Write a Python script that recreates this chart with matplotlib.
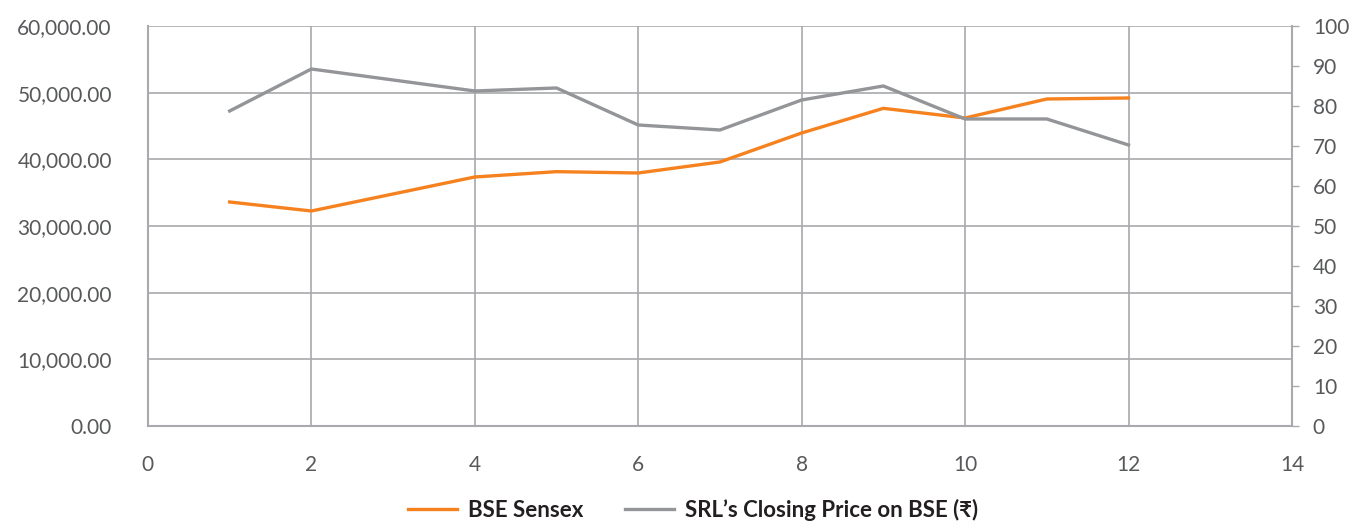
import matplotlib.pyplot as plt
from matplotlib.ticker import FuncFormatter, MultipleLocator

plt.rcParams['font.family'] = ['Lato', 'DejaVu Sans']

# Month index on the x axis
months = [1, 2, 4, 5, 6, 7, 8, 9, 10, 11, 12]
sensex = [33600, 32250, 37350, 38150, 37950, 39600, 43950, 47650, 46200, 49050, 49200]
srl_price = [78.75, 89.25, 83.75, 84.5, 75.25, 74.0, 81.5, 85.0, 76.75, 76.75, 70.25]

orange = '#f5821f'
gray = '#939598'
grid_col = '#a7a9ac'
text_col = '#58595b'

fig = plt.figure(figsize=(13.51, 5.25), dpi=100)
ax = fig.add_axes([0.1095, 0.1886, 0.8468, 0.7619])
ax2 = ax.twinx()

ax.plot(months, sensex, color=orange, lw=2.4, label='BSE Sensex', zorder=3)
ax2.plot(months, srl_price, color=gray, lw=2.4, label='SRL\u2019s Closing Price on BSE (\u20b9)', zorder=3)

ax.set_xlim(0, 14)
ax.set_ylim(0, 60000)
ax2.set_ylim(0, 100)
ax.xaxis.set_major_locator(MultipleLocator(2))
ax.yaxis.set_major_locator(MultipleLocator(10000))
ax2.yaxis.set_major_locator(MultipleLocator(10))
ax.yaxis.set_major_formatter(FuncFormatter(lambda v, p: f'{v:,.2f}'))

ax.grid(True, color=grid_col, lw=1.2)
ax.set_axisbelow(True)

for a in (ax, ax2):
    for s in a.spines.values():
        s.set_visible(False)
ax.spines['left'].set_visible(True)
ax.spines['bottom'].set_visible(True)
ax.spines['left'].set_color(grid_col)
ax.spines['bottom'].set_color(grid_col)
ax.spines['left'].set_linewidth(1.5)
ax.spines['bottom'].set_linewidth(1.5)
ax2.spines['right'].set_visible(True)
ax2.spines['right'].set_color(grid_col)
ax2.spines['right'].set_linewidth(1.5)

ax.tick_params(axis='y', length=0, pad=26, labelsize=15, labelcolor=text_col)
ax.tick_params(axis='x', length=0, pad=21, labelsize=15, labelcolor=text_col)
ax2.tick_params(axis='y', length=5, width=1, color=grid_col, pad=10,
                labelsize=15, labelcolor=text_col)

fig.legend(loc='lower center', bbox_to_anchor=(0.513, -0.03), ncol=2, frameon=False,
           handlelength=2.2, columnspacing=1.9, handletextpad=0.5,
           prop={'size': 16, 'weight': 'bold'}, labelcolor='#231f20')

fig.savefig('out.png', dpi=100)
